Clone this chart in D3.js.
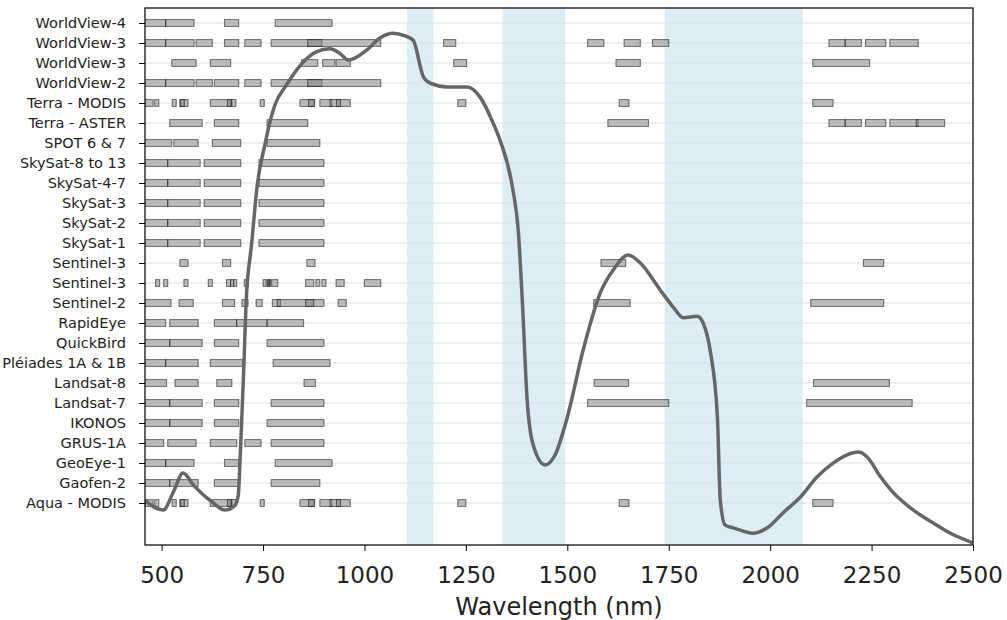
<!DOCTYPE html>
<html>
<head>
<meta charset="utf-8">
<script src="https://cdn.jsdelivr.net/npm/d3@7"></script>
<style>
  body { margin: 0; background: #fff; }
  svg { display: block; font-family: "DejaVu Sans", sans-serif; }
</style>
</head>
<body>
<div id="chart"></div>
<script>
// satellites, top row first
const satellites = [
    'WorldView-4', 'WorldView-3', 'WorldView-3', 'WorldView-2', 'Terra - MODIS', 'Terra - ASTER',
    'SPOT 6 & 7', 'SkySat-8 to 13', 'SkySat-4-7', 'SkySat-3', 'SkySat-2', 'SkySat-1',
    'Sentinel-3', 'Sentinel-3', 'Sentinel-2', 'RapidEye', 'QuickBird', 'Pléiades 1A & 1B',
    'Landsat-8', 'Landsat-7', 'IKONOS', 'GRUS-1A', 'GeoEye-1', 'Gaofen-2', 'Aqua - MODIS'
];

const modisBands = [[459, 479], [483, 493], [526, 536], [545, 565], [546, 556], [620, 670], [662, 672],
    [673, 683], [743, 753], [841, 876], [862, 877], [890, 920], [915, 965], [931, 941],
    [1230, 1250], [1628, 1652], [2105, 2155]];
const skysatBands = [[450, 515], [515, 595], [605, 695], [740, 900]];

// spectral bands [start, end] in nm, same order as satellites
const bands = [
    [[450, 510], [510, 580], [655, 690], [780, 920]],
    [[450, 510], [510, 580], [585, 625], [655, 690], [705, 745], [770, 895], [860, 1040],
     [1195, 1225], [1550, 1590], [1640, 1680], [1710, 1750], [2145, 2185], [2185, 2225], [2235, 2285], [2295, 2365]],
    [[525, 585], [620, 670], [845, 885], [897, 927], [930, 965], [1220, 1252], [1620, 1680], [2105, 2245]],
    [[450, 510], [510, 580], [585, 625], [630, 690], [705, 745], [770, 895], [860, 1040]],
    modisBands,
    [[520, 600], [630, 690], [760, 860], [1600, 1700], [2145, 2185], [2185, 2225], [2235, 2285], [2295, 2365], [2360, 2430]],
    [[455, 525], [530, 590], [625, 695], [760, 890]],
    skysatBands, skysatBands, skysatBands, skysatBands, skysatBands,
    [[545, 565], [650, 670], [858, 878], [1583, 1644], [2230, 2280]],
    [[485, 495], [505, 515], [555, 565], [615, 625], [660, 670], [670, 677.5], [677.5, 685], [703.75, 713.75],
     [750, 757.5], [760, 762.5], [762.5, 766.25], [766.25, 768.75], [771.25, 786.25], [855, 875], [880, 890],
     [895, 905], [930, 950], [1000, 1040]],
    [[458, 523], [543, 578], [650, 680], [698, 713], [733, 748], [773, 793], [785, 900], [855, 875], [935, 955],
     [1565, 1655], [2100, 2280]],
    [[440, 510], [520, 590], [630, 685], [685, 760], [760, 850]],
    [[450, 520], [520, 600], [630, 690], [760, 900]],
    [[450, 510], [510, 590], [620, 700], [775, 915]],
    [[452, 512], [533, 590], [636, 673], [851, 879], [1566, 1651], [2107, 2294]],
    [[450, 520], [520, 600], [630, 690], [770, 900], [1550, 1750], [2090, 2350]],
    [[450, 520], [520, 600], [630, 690], [760, 900]],
    [[450, 505], [515, 585], [620, 685], [705, 745], [770, 900]],
    [[450, 510], [510, 580], [655, 690], [780, 920]],
    [[450, 520], [520, 590], [630, 690], [770, 890]],
    modisBands
];

// water absorption regions (nm)
const waterBands = [[1105, 1170], [1340, 1495], [1740, 2080]];

// vegetation reflectance spectrum
const curveWl = [460, 504, 529, 553, 578, 599, 623, 656, 681, 689, 693, 697, 703, 708, 722, 736, 755, 765,
    779, 808, 845, 880, 915, 940, 960, 1006, 1038, 1070, 1100, 1120, 1145, 1162, 1204, 1253, 1285,
    1317, 1334, 1366, 1379, 1389, 1401, 1416, 1445, 1470, 1500, 1539, 1581, 1613, 1650, 1680, 1729,
    1761, 1786, 1820, 1835, 1852, 1870, 1877, 1889, 1909, 1958, 1993, 2032, 2074, 2116, 2156, 2190,
    2217, 2239, 2272, 2304, 2353, 2402, 2452, 2493, 2500];
const curveRefl = [0.082, 0.065, 0.099, 0.134, 0.112, 0.096, 0.081, 0.065, 0.074, 0.093, 0.153, 0.225,
    0.339, 0.449, 0.562, 0.672, 0.747, 0.782, 0.819, 0.857, 0.896, 0.918, 0.924, 0.915, 0.903, 0.922,
    0.944, 0.953, 0.948, 0.940, 0.872, 0.860, 0.853, 0.853, 0.834, 0.786, 0.754, 0.661, 0.587, 0.456,
    0.270, 0.186, 0.149, 0.168, 0.238, 0.363, 0.469, 0.512, 0.540, 0.525, 0.475, 0.443, 0.423, 0.426,
    0.413, 0.363, 0.238, 0.084, 0.037, 0.032, 0.022, 0.032, 0.060, 0.089, 0.127, 0.153, 0.168, 0.173,
    0.164, 0.127, 0.097, 0.065, 0.041, 0.019, 0.006, 0.004];

const xTicks = [500, 750, 1000, 1250, 1500, 1750, 2000, 2250, 2500];

const W = 1007, H = 620;
const margin = { top: 8, right: 34, bottom: 75, left: 145 };
const width = W - margin.left - margin.right;
const height = H - margin.top - margin.bottom;

const svg = d3.select('#chart').append('svg')
    .attr('width', W)
    .attr('height', H);

const g = svg.append('g')
    .attr('transform', `translate(${margin.left},${margin.top})`);

svg.append('defs').append('clipPath')
    .attr('id', 'plot-clip')
    .append('rect')
    .attr('width', width)
    .attr('height', height);

const x = d3.scaleLinear().domain([459, 2500]).range([0, width]);
const n = satellites.length;
// row index: bottom row (Aqua) = 0
const y = d3.scaleLinear().domain([-2.1, n - 1 + 0.75]).range([height, 0]);
const yr = d3.scaleLinear().domain([0, 1]).range([height, 0]);
const rowY = i => y(n - 1 - i);

const plot = g.append('g').attr('clip-path', 'url(#plot-clip)');

plot.selectAll('.water')
    .data(waterBands)
    .enter()
    .append('rect')
    .attr('class', 'water')
    .attr('x', d => x(d[0]))
    .attr('width', d => x(d[1]) - x(d[0]))
    .attr('y', 0)
    .attr('height', height)
    .style('fill', '#dcedf6');

plot.selectAll('.grid')
    .data(satellites)
    .enter()
    .append('line')
    .attr('class', 'grid')
    .attr('x1', 0)
    .attr('x2', width)
    .attr('y1', (d, i) => rowY(i))
    .attr('y2', (d, i) => rowY(i))
    .style('stroke', '#e0e0e0')
    .style('stroke-width', 1.2);

const barH = y(0) - y(0.34);
bands.forEach((list, i) => {
    plot.append('g')
        .selectAll('rect')
        .data(list)
        .enter()
        .append('rect')
        .attr('x', d => x(d[0]))
        .attr('width', d => x(d[1]) - x(d[0]))
        .attr('y', rowY(i) - barH / 2)
        .attr('height', barH)
        .style('fill', 'gray')
        .style('fill-opacity', 0.5)
        .style('stroke', 'black')
        .style('stroke-opacity', 0.5)
        .style('stroke-width', 1.1);
});

const curveData = curveWl.map((w, i) => [w, curveRefl[i]]);
plot.append('path')
    .datum(curveData)
    .attr('d', d3.line()
        .x(d => x(d[0]))
        .y(d => yr(d[1]))
        .curve(d3.curveMonotoneX))
    .style('fill', 'none')
    .style('stroke', '#666')
    .style('stroke-width', 3.5)
    .style('stroke-linejoin', 'round');

// axes
const yAxis = g.append('g')
    .call(d3.axisLeft(y)
        .tickValues(d3.range(n))
        .tickFormat(v => satellites[n - 1 - v])
        .tickSize(6)
        .tickPadding(13));
yAxis.select('.domain').remove();
yAxis.selectAll('text')
    .style('font-size', '14.5px')
    .style('font-family', 'DejaVu Sans, sans-serif')
    .style('fill', '#222');

const xAxis = g.append('g')
    .attr('transform', `translate(0,${height})`)
    .call(d3.axisBottom(x)
        .tickValues(xTicks)
        .tickFormat(d3.format('d'))
        .tickSize(6)
        .tickPadding(16));
xAxis.select('.domain').remove();
xAxis.selectAll('text')
    .style('font-size', '23px')
    .style('font-family', 'DejaVu Sans, sans-serif')
    .style('fill', '#222');

g.append('rect')
    .attr('width', width)
    .attr('height', height)
    .style('fill', 'none')
    .style('stroke', '#111')
    .style('stroke-width', 1.3);

g.append('text')
    .attr('x', width / 2)
    .attr('y', height + 70)
    .attr('text-anchor', 'middle')
    .style('font-size', '24px')
    .style('font-family', 'DejaVu Sans, sans-serif')
    .style('fill', '#222')
    .text('Wavelength (nm)');
</script>
</body>
</html>
